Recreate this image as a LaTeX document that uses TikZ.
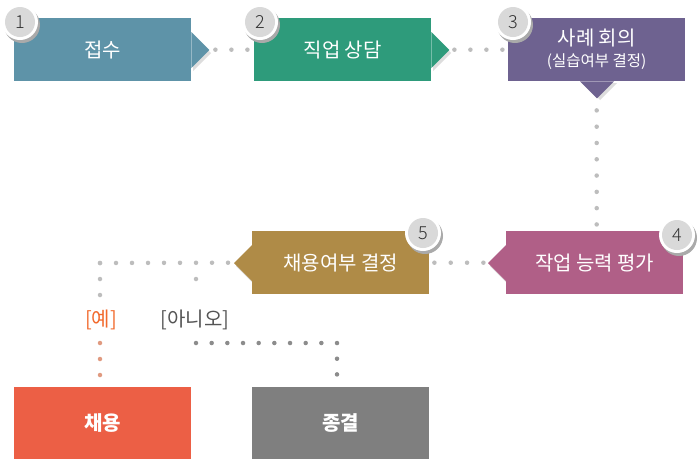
\documentclass[tikz,border=0pt]{standalone}
\usepackage{fontspec}
\setmainfont{Noto Sans CJK KR}
\newfontfamily\badgefont{Noto Sans CJK KR Light}
\usetikzlibrary{calc,positioning}
\usepackage{xcolor}
\definecolor{stepteal}{HTML}{5E93A8}
\definecolor{stepgreen}{HTML}{2E9B7B}
\definecolor{steppurple}{HTML}{6E6290}
\definecolor{stepmauve}{HTML}{B05F87}
\definecolor{stepgold}{HTML}{AF8B47}
\definecolor{hirered}{HTML}{EC5F45}
\definecolor{endgray}{HTML}{7F7F7F}
\definecolor{dotgray}{HTML}{BDBDBD}
\definecolor{dotdark}{HTML}{8C8C8C}
\definecolor{dotorange}{HTML}{E09A80}
\definecolor{yesorange}{HTML}{F26A2D}
\definecolor{notext}{HTML}{555555}
\definecolor{shadowgray}{HTML}{DDDDDD}
\definecolor{ringshadow}{HTML}{AAAAAA}
\definecolor{badgegray}{HTML}{D9D9D9}

\begin{document}
\begin{tikzpicture}[x=1pt, y=-1pt,
  stepbox/.style={minimum width=177pt, minimum height=63pt, inner sep=0pt,
    anchor=north west, text=white, font=\fontsize{20}{22}\selectfont},
  endbox/.style={stepbox, minimum height=72pt,
    font=\fontsize{20}{22}\selectfont\bfseries},
  dotline/.style={draw=dotgray, line width=4.5pt, line cap=round,
    dash pattern=on 0pt off 16pt},
  badge/.style={circle, fill=badgegray, minimum size=30pt, inner sep=0pt,
    text=black!80, font=\badgefont\fontsize{18}{18}\selectfont}
]

% === Wymiary ===
\useasboundingbox (0,0) rectangle (700,459);
\fill[white] (0,0) rectangle (700,459);

% === Cienie grotów ===
\fill[shadowgray] (193,35) -- (211,53) -- (193,71) -- cycle;
\fill[shadowgray] (433,35) -- (451,53) -- (433,71) -- cycle;
\fill[shadowgray] (583,83) -- (600,100) -- (617,83) -- cycle;
\fill[shadowgray] (508,248) -- (490,266) -- (508,284) -- cycle;
\fill[shadowgray] (254,248) -- (236,266) -- (254,284) -- cycle;

% === Etapy ===
\node[stepbox, fill=stepteal] (intake) at (14,18) {접수};
\fill[stepteal] (intake.north east) ++(0,14) -- ++(18,18) -- ++(-18,18) -- cycle;

\node[stepbox, fill=stepgreen] (counsel) at (254,18) {직업 상담};
\fill[stepgreen] (counsel.north east) ++(0,14) -- ++(18,18) -- ++(-18,18) -- cycle;

\node[stepbox, fill=steppurple, align=center] (review) at (508,18)
  {사례 회의\\[-1pt]{\fontsize{15.5}{17}\selectfont(실습여부 결정)}};
\fill[steppurple] (review.south west) ++(72,0) -- ++(17,17) -- ++(17,-17) -- cycle;

\node[stepbox, fill=stepmauve] (assess) at (506,231) {작업 능력 평가};
\fill[stepmauve] (assess.north west) ++(0,14) -- ++(-18,18) -- ++(18,18) -- cycle;

\node[stepbox, fill=stepgold] (decide) at (252,231) {채용여부 결정};
\fill[stepgold] (decide.north west) ++(0,14) -- ++(-18,18) -- ++(18,18) -- cycle;

\node[endbox, fill=hirered] (hire) at (14,387) {채용};
\node[endbox, fill=endgray] (close) at (252,387) {종결};

% === Numery ===
\foreach \n/\x/\y in {1/20/22, 2/260/22, 3/513/22, 4/677/235, 5/423/233} {
  \fill[ringshadow] (\x+2,\y+3) circle (18);
  \fill[white] (\x,\y) circle (18);
  \node[badge] (badge\n) at (\x,\y) {\n};
}

% === Połączenia ===
\draw[dotline] ($(intake.east)+(24,0)$) -- ($(counsel.west)+(-6,0)$);
\draw[dotline] ($(counsel.east)+(23,0)$) -- ($(review.west)+(-5,0)$);
\draw[dotline, dash pattern=on 0pt off 16.29pt]
  ($(review.south)+(0,29)$) -- ($(review.south |- assess.north)+(0,-6)$);
\draw[dotline, dash pattern=on 0pt off 16.33pt]
  ($(decide.east)+(5,0)$) -- ($(assess.west)+(-22,0)$);

\coordinate (yesfork) at (100,263);
\coordinate (nofork) at (196,263);
\draw[dotline] (yesfork) -- ($(decide.west)+(-23,0)$);
\draw[dotline] (yesfork) -- ++(0,33);
\draw[dotline] ($(nofork)+(0,16)$) -- ++(0,16);

\node[text=yesorange, font=\fontsize{20}{22}\selectfont] (yes) at (101,320) {[예]};
\node[text=notext, font=\fontsize{20}{22}\selectfont] (no) at (195,320) {[아니오]};

\draw[dotline, draw=dotorange] ($(hire.north -| yesfork)+(0,-44)$) -- ++(0,33);
\coordinate (endcorner) at (337,343);
\draw[dotline, draw=dotdark, dash pattern=on 0pt off 15.67pt]
  (nofork |- endcorner) -- (endcorner) -- ($(close.north -| endcorner)+(0,-10)$);

\end{tikzpicture}
\end{document}
